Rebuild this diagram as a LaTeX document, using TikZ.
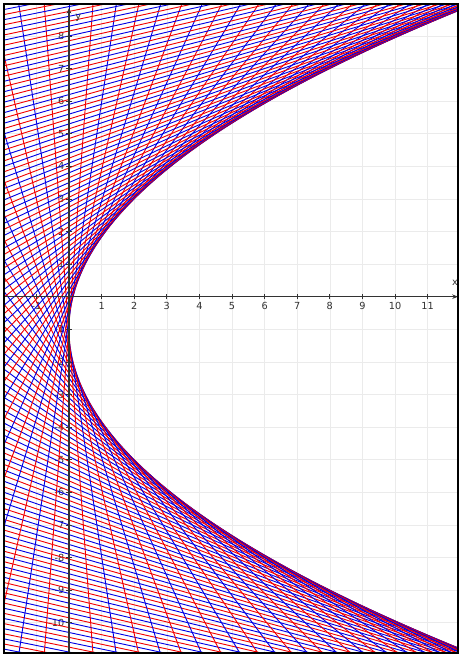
\documentclass[tikz,border=0pt]{standalone}
\usepackage{fontspec}
\setmainfont{DejaVu Sans}
\usetikzlibrary{arrows.meta}

\begin{document}
\begin{tikzpicture}[
    gridline/.style={gray!16, line width=0.4pt},
    axisline/.style={black!80, line width=0.9pt},
    tickmark/.style={black!80, line width=0.6pt},
    ticklabel/.style={font=\fontsize{8.5}{10}\selectfont, text=black!80, inner sep=1pt},
    redline/.style={red!95!black, line width=0.8pt},
    blueline/.style={blue!90!black, line width=0.8pt},
    framebox/.style={draw=black, line width=1.8pt}
]
\useasboundingbox (-2.117,-10.991) rectangle (11.963,9.101);
\fill[white] (-2.117,-10.991) rectangle (11.963,9.101);

\begin{scope}
\clip (-2,-10.93) rectangle (11.93,8.98);
\draw[gridline] (-3,-11) grid (12,9);

\foreach \yv in {1,...,8}
    \node[ticklabel, anchor=east] (ylab\yv) at (-0.1,\yv) {\yv};
\foreach \yv in {1,...,10}
    \node[ticklabel, anchor=east] (ylabm\yv) at (-0.1,-\yv) {-\yv};
\foreach \xv in {1,...,11}
    \node[ticklabel, anchor=north] (xlab\xv) at (\xv,-0.12) {\xv};
\node[ticklabel, anchor=north] (xlabm1) at (-1,-0.12) {-1};

\foreach \i in {-74,...,74}{
    \pgfmathsetmacro{\tpar}{\i*0.3}
    \pgfmathsetmacro{\xlo}{(2*\tpar*(-11)-\tpar*\tpar)/8}
    \pgfmathsetmacro{\xhi}{(2*\tpar*11-\tpar*\tpar)/8}
    \ifodd\i \def\linecol{redline}\else \def\linecol{blueline}\fi
    \draw[\linecol] (\xlo,-12) -- (\xhi,10);
}

\draw[axisline, -{Stealth[length=5pt,width=4pt]}] (-2.2,0) -- (11.93,0);
\draw[axisline, -{Stealth[length=5pt,width=4pt]}] (0,-11.2) -- (0,8.86);
\foreach \xv in {-1,1,2,...,11}
    \draw[tickmark] (\xv,-0.08) -- (\xv,0.08);
\foreach \yv in {-10,...,-1,1,2,...,8}
    \draw[tickmark] (-0.08,\yv) -- (0.08,\yv);
\node[ticklabel] (xname) at (11.84,0.42) {x};
\node[ticklabel] (yname) at (0.28,8.55) {y};
\end{scope}

\draw[framebox] (-2,-10.93) rectangle (11.93,8.98);
\end{tikzpicture}
\end{document}
